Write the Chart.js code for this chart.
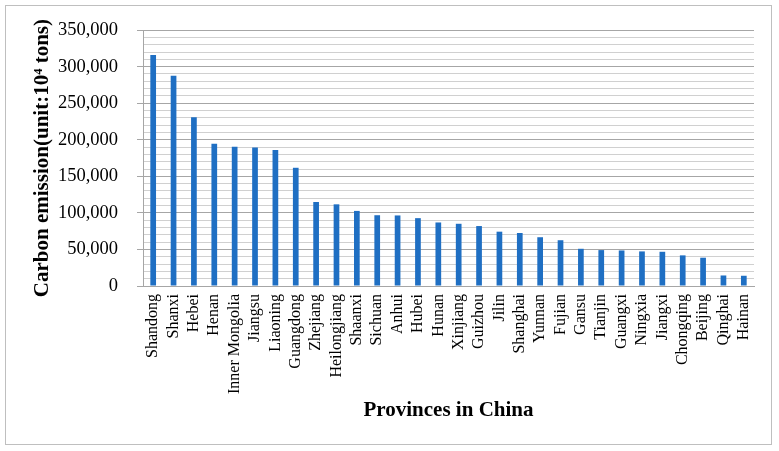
<!DOCTYPE html>
<html>
<head>
<meta charset="utf-8">
<script src="https://cdn.jsdelivr.net/npm/chart.js@4"></script>
<style>
  body { margin: 0; background: #fff; }
  #marco { position: absolute; left: 5px; top: 5px; width: 765px; height: 438px; border: 1px solid #bfbfbf; }
  #grafica { position: absolute; left: 0; top: 0; }
</style>
</head>
<body>
<div id="marco"></div>
<canvas id="grafica" width="779" height="451"></canvas>
<script>
// Datos
const provincias = [
  "Shandong", "Shanxi", "Hebei", "Henan", "Inner Mongolia", "Jiangsu",
  "Liaoning", "Guangdong", "Zhejiang", "Heilongjiang", "Shaanxi", "Sichuan",
  "Anhui", "Hubei", "Hunan", "Xinjiang", "Guizhou", "Jilin", "Shanghai",
  "Yunnan", "Fujian", "Gansu", "Tianjin", "Guangxi", "Ningxia", "Jiangxi",
  "Chongqing", "Beijing", "Qinghai", "Hainan",
];
const emisiones = [
  315800, 287400, 230700, 194600, 190500, 189600,
  186100, 161700, 114900, 111700, 102700, 96800,
  96500, 92800, 86900, 85100, 82000, 74300, 72500,
  66700, 62600, 50900, 49100, 48600, 47300, 46800,
  41900, 38700, 14400, 14000,
];
const ejeYmin = 0;
const ejeYmax = 350000;
const pasoMenor = 10000;
const pasoMayor = 50000;

const fuente = "'Liberation Serif', 'DejaVu Serif', serif";

document.addEventListener("DOMContentLoaded", function () {
  const ctx = document.getElementById("grafica").getContext("2d");
  new Chart(ctx, {
    type: "bar",
    data: {
      labels: provincias,
      datasets: [
        {
          data: emisiones,
          backgroundColor: "#1f6fc3",
          borderWidth: 0,
          categoryPercentage: 1,
          barPercentage: 0.28,
        },
      ],
    },
    options: {
      responsive: false,
      animation: false,
      layout: { padding: { top: 25, right: 25, bottom: 0, left: 0 } },
      plugins: {
        legend: { display: false },
        tooltip: { enabled: false },
      },
      scales: {
        x: {
          afterFit: function (scale) { scale.height = 165; },
          grid: { display: false, drawTicks: false },
          border: { color: "#a6a6a6", width: 1 },
          ticks: {
            color: "#000",
            font: { family: fuente, size: 16 },
            minRotation: 90,
            maxRotation: 90,
            autoSkip: false,
            padding: 8,
          },
          title: {
            display: true,
            text: "Provinces in China",
            color: "#000",
            font: { family: fuente, size: 21, weight: "bold" },
            padding: { top: 0, bottom: 28 },
          },
        },
        y: {
          min: ejeYmin,
          max: ejeYmax,
          afterFit: function (scale) { scale.width = 143; },
          border: { color: "#a6a6a6", width: 1 },
          grid: {
            color: function (c) {
              return c.tick && c.tick.value % pasoMayor === 0 ? "#a6a6a6" : "#d0d0d0";
            },
            tickColor: function (c) {
              return c.tick && c.tick.value % pasoMayor === 0 ? "#a6a6a6" : "rgba(0,0,0,0)";
            },
            tickLength: 6,
          },
          ticks: {
            stepSize: pasoMenor,
            autoSkip: false,
            color: "#000",
            font: { family: fuente, size: 18.5 },
            padding: 19,
            callback: function (value) {
              return value % pasoMayor === 0 ? value.toLocaleString("en-US") : "";
            },
          },
          title: {
            display: true,
            text: "Carbon emission(unit:10\u2074 tons)",
            color: "#000",
            font: { family: fuente, size: 21, weight: "bold" },
            padding: { top: 30, bottom: 0 },
          },
        },
      },
    },
  });
});
</script>
</body>
</html>
